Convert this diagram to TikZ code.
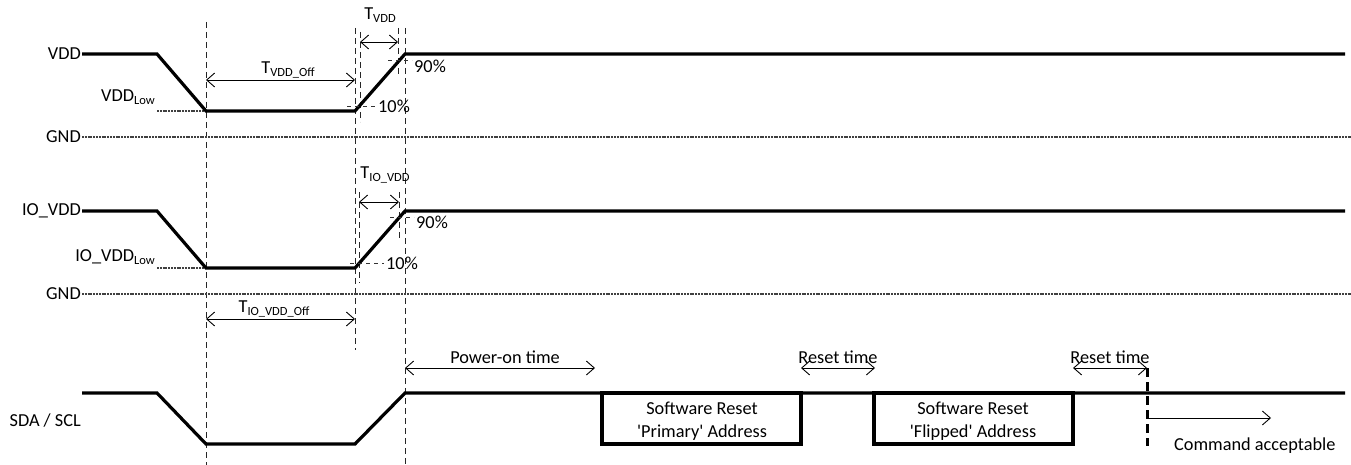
\documentclass[tikz,border=0pt]{standalone}
\usepackage{fontspec}
\setmainfont{Carlito}
\usetikzlibrary{arrows.meta}
\newcommand{\lowtxt}[1]{\raisebox{-3pt}{\fontsize{12.5}{14}\selectfont #1}}
\newcommand{\sq}{\textquotesingle}
\tikzset{
  sig/.style={line width=3.2pt, line join=miter},
  vguide/.style={line width=1pt, dash pattern=on 6pt off 4pt, black!85},
  gndline/.style={line width=1.4pt, dash pattern=on 2pt off 0.8pt, black!75},
  tick/.style={line width=0.9pt, dash pattern=on 4pt off 4pt, black!80},
  dim/.style={line width=0.9pt, {Straight Barb[length=8pt,width=14pt]}-{Straight Barb[length=8pt,width=14pt]}},
  dimr/.style={line width=0.9pt, -{Straight Barb[length=8pt,width=14pt]}},
  lbl/.style={inner sep=0pt, font=\fontsize{18.3}{22}\selectfont},
  boxtxt/.style={inner sep=0pt, align=center, font=\fontsize{18.3}{23}\selectfont}
}
\begin{document}
\begin{tikzpicture}[x=1pt,y=-1pt]
\useasboundingbox (0,0) rectangle (1351,465);

% ---------- vertical guides ----------
\draw[vguide] (206,22) -- (206,465);
\draw[vguide] (355,28) -- (355,350);
\draw[vguide] (405,28) -- (405,465);
\draw[vguide] (360,32) -- (360,122);
\draw[vguide] (398,28) -- (398,77);
\draw[vguide] (359,192) -- (359,283);
\draw[vguide] (399,192) -- (399,240);
\draw[line width=3pt, dash pattern=on 9pt off 5pt] (1147,368) -- (1147,446);

% ---------- VDD ----------
\node[lbl, anchor=east] (vdd) at (81,54) {VDD};
\node[lbl, anchor=east] (vddlow) at (155,97) {VDD\lowtxt{Low}};
\node[lbl, anchor=east] (gnd1) at (81,137) {GND};
\draw[gndline] (82,137) -- (1351,137);
\draw[gndline] (157,111) -- (206,111);
\draw[sig] (82,54) -- (157,54) -- (206,111) -- (355,111) -- (405,54) -- (1345,54);
\draw[tick] (347,106) -- (377,106);
\draw[tick] (388,60) -- (412,60);
\node[lbl, anchor=west] (p10a) at (378,106) {10\%};
\node[lbl, anchor=west] (p90a) at (414,66) {90\%};
\node[lbl] (tvdd) at (380,15) {T\lowtxt{VDD}};
\draw[dim] (360,42) -- (398,42);
\node[lbl] (tvddoff) at (288,70) {T\lowtxt{VDD\_Off}};
\draw[dim] (206,80) -- (355,80);

% ---------- IO_VDD ----------
\node[lbl, anchor=east] (iovdd) at (81,211) {IO\_VDD};
\node[lbl, anchor=east] (iovddlow) at (155,257) {IO\_VDD\lowtxt{Low}};
\node[lbl, anchor=east] (gnd2) at (81,294) {GND};
\draw[gndline] (82,294) -- (1351,294);
\draw[gndline] (157,268) -- (206,268);
\draw[sig] (82,211) -- (157,211) -- (206,268) -- (355,268) -- (405,211) -- (1345,211);
\draw[tick] (350,263) -- (384,263);
\draw[tick] (390,217) -- (414,217);
\node[lbl, anchor=west] (p10b) at (386,263) {10\%};
\node[lbl, anchor=west] (p90b) at (416,222) {90\%};
\node[lbl] (tiovdd) at (385,175) {T\lowtxt{IO\_VDD}};
\draw[dim] (359,202) -- (399,202);
\node[lbl] (tiovddoff) at (274,309) {T\lowtxt{IO\_VDD\_Off}};
\draw[dim] (206,319) -- (355,319);

% ---------- SDA / SCL ----------
\node[lbl, anchor=east] (sda) at (81,421) {SDA / SCL};
\draw[sig] (82,393) -- (157,393) -- (206,444) -- (355,444) -- (405,393) -- (1345,393);
\draw[sig] (602,393) rectangle (801,444);
\draw[sig] (874,393) rectangle (1073,444);
\node[boxtxt] (sw1) at (702,421.5) {Software Reset\\\sq Primary\sq{} Address};
\node[boxtxt] (sw2) at (973,421.5) {Software Reset\\\sq Flipped\sq{} Address};

\node[lbl] (pon) at (505,357) {Power-on time};
\draw[dim] (405,368) -- (595,368);
\node[lbl] (rt1) at (838,357) {Reset time};
\draw[dim] (801,368) -- (875,368);
\node[lbl] (rt2) at (1110,357) {Reset time};
\draw[dim] (1073,368) -- (1147,368);
\draw[dimr] (1149,418) -- (1271,418);
\node[lbl, anchor=west] (cmd) at (1174,446) {Command acceptable};
\end{tikzpicture}
\end{document}
